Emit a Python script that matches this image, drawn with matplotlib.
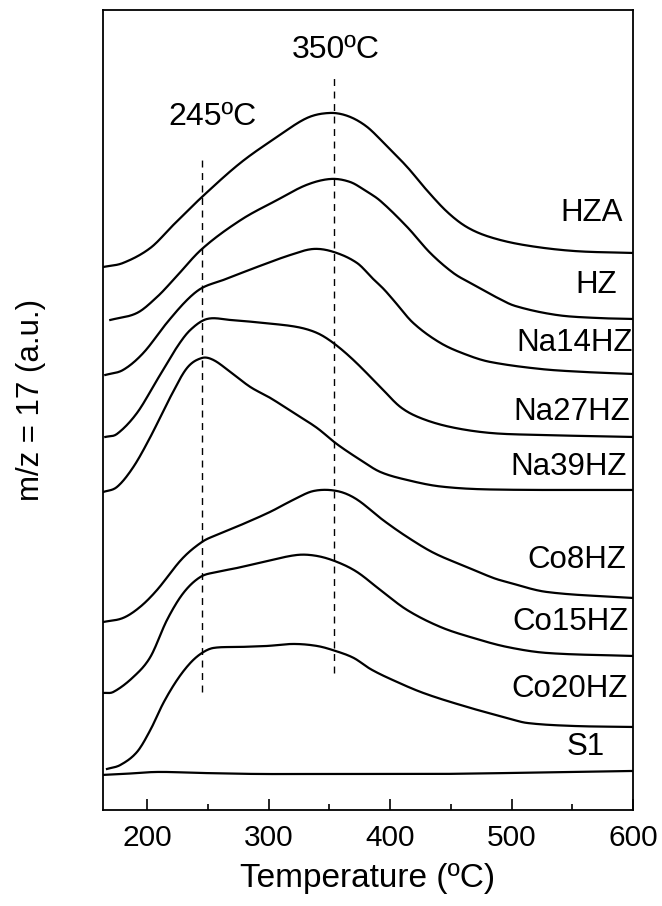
import numpy as np
import matplotlib
matplotlib.use('Agg')
import matplotlib.pyplot as plt

plt.rcParams['font.family'] = ['Liberation Sans', 'DejaVu Sans']

# TPD curves, m/z = 17 signal (offset traces, arbitrary units)
t_hza = [163.8, 180, 202.5, 221.4, 245, 276.6, 306.8, 331.5, 350, 365, 380, 394,
         414, 430, 447, 463, 482, 510, 551, 600]
y_hza = [543, 547, 562, 585, 613, 647, 673, 692, 697, 694, 684, 668,
         643, 620, 598, 583, 573, 565, 559, 557]

t_hz = [169.5, 191.5, 208, 221.4, 245, 277, 307, 331, 351, 367, 380, 392, 414, 433, 452,
        466, 487, 503, 537, 570, 600]
y_hz = [490, 497, 513, 530, 561, 590, 610, 625, 631, 628, 619, 609, 583, 557, 537,
        527, 513, 504, 495, 492, 491]

t_na14 = [165.4, 180, 196.7, 216, 232.7, 245, 262.6, 290.4, 317.8, 336.7, 353.5, 372.7,
          386, 394.6, 402.6, 419, 441.4, 463.4, 482.5, 523.7, 560, 600]
y_na14 = [435, 440, 457, 487, 510, 522, 530, 543, 555, 561, 558, 547,
          531, 521, 510, 487, 467, 455, 448, 441, 438, 436]

t_na27 = [165.4, 175, 191.5, 208, 224.5, 235.4, 249.2, 268.4, 295.6, 323.3, 339.8,
          353.2, 369.7, 391.9, 408.4, 424.9, 449.6, 482.5, 523.7, 600]
y_na27 = [373, 376, 397, 430, 463, 480, 491, 490, 487, 483, 477,
          467, 450, 423, 403, 392, 383, 377, 375, 373]

t_na39 = [163.8, 175, 188.5, 202.5, 219, 232.7, 245, 254.4, 268.4, 284.8, 301.3, 323.3,
          339.8, 356, 375.5, 391.9, 413.9, 441.4, 482.5, 600]
y_na39 = [318, 323, 343, 373, 413, 442, 452, 450, 438, 423, 412, 395,
          382, 366, 350, 338, 330, 323.5, 320.5, 320]

t_co8 = [163.8, 180, 194, 208, 228.5, 245, 257, 277, 301, 320, 337, 356, 372, 394,
         414, 436, 463, 485, 496, 529, 600]
y_co8 = [188, 192, 203, 220, 251, 268, 275, 285, 298, 310, 319, 319, 311, 290,
         273, 257, 243, 232, 228, 218, 212]

t_co15 = [163.8, 172, 188.5, 202.5, 216.2, 229.7, 243.7, 257.4, 273.9, 295.6, 323.3,
          339.8, 356.3, 372.7, 391.9, 413.9, 441.4, 468.5, 496.3, 529.2, 600]
y_co15 = [117, 118, 133, 153, 190, 217, 233, 238, 242, 248, 255,
          254, 248, 238, 220, 200, 183, 172, 163, 157, 154]

t_co20 = [166.8, 177.8, 191.5, 202.5, 213.2, 224.5, 235.4, 245, 254.4, 276.6, 298.6,
          320.3, 339.8, 355, 370, 383.7, 400.2, 427.3, 463.4, 496.3, 512.8, 550.9, 600]
y_co20 = [41, 45, 58, 80, 107, 130, 147, 157, 162, 163, 164,
          166, 164, 159, 152, 141, 131, 117, 103, 92, 87, 84, 83]

t_s1 = [162.7, 180, 208, 243.7, 290.4, 345, 400, 441.4, 550.9, 600]
y_s1 = [35, 36, 38, 37, 36, 36, 36, 36, 38, 39]

curves = [(t_hza, y_hza), (t_hz, y_hz), (t_na14, y_na14), (t_na27, y_na27),
          (t_na39, y_na39), (t_co8, y_co8), (t_co15, y_co15), (t_co20, y_co20),
          (t_s1, y_s1)]

names = ['HZA', 'HZ', 'Na14HZ', 'Na27HZ', 'Na39HZ', 'Co8HZ', 'Co15HZ', 'Co20HZ', 'S1']
name_x = [592, 587, 600, 598, 595, 594.5, 596, 596, 577]
name_y = [597, 525, 467, 398, 343, 250, 188, 121, 63]

# reference temperatures (dashed) and their labels
peak_t = [245, 354]
peak_lo = [118, 137]
peak_hi = [655, 732]
peak_lbl = ['245ºC', '350ºC']
peak_lbl_x = [253.5, 355]
peak_lbl_y = [693, 760]


def smooth(x, y, n=600):
    # Catmull-Rom style cubic Hermite through the read points
    x = np.asarray(x, float)
    y = np.asarray(y, float)
    h = np.diff(x)
    m = np.empty_like(y)
    m[1:-1] = (y[2:] - y[:-2]) / (x[2:] - x[:-2])
    m[0] = (y[1] - y[0]) / h[0]
    m[-1] = (y[-1] - y[-2]) / h[-1]
    xx = np.linspace(x[0], x[-1], n)
    i = np.clip(np.searchsorted(x, xx) - 1, 0, len(x) - 2)
    s = (xx - x[i]) / h[i]
    yy = ((2 * s**3 - 3 * s**2 + 1) * y[i] + (s**3 - 2 * s**2 + s) * h[i] * m[i]
          + (-2 * s**3 + 3 * s**2) * y[i + 1] + (s**3 - s**2) * h[i] * m[i + 1])
    return xx, yy


fig = plt.figure(figsize=(6.62, 9.06), dpi=100)
ax = fig.add_axes([0.1556, 0.106, 0.8006, 0.883])

for t, y in curves:
    xx, yy = smooth(t, y)
    ax.plot(xx, yy, color='black', lw=1.6)

for t0, lo, hi in zip(peak_t, peak_lo, peak_hi):
    ax.plot([t0, t0], [lo, hi], color='black', lw=1.0, ls=(0, (5, 4)))

for lbl, x, y in zip(peak_lbl, peak_lbl_x, peak_lbl_y):
    ax.text(x, y, lbl, fontsize=23, ha='center', va='center')

for n, x, y in zip(names, name_x, name_y):
    ax.text(x, y, n, fontsize=22.5, ha='right', va='center')

ax.set_xlim(163.5, 600)
ax.set_ylim(0, 800)
ax.set_xticks([200, 300, 400, 500, 600])
ax.set_xticks([250, 350, 450, 550], minor=True)
ax.set_yticks([])
ax.tick_params(axis='x', which='major', direction='in', length=8, width=1.2,
               labelsize=21.5, pad=10)
ax.tick_params(axis='x', which='minor', direction='in', length=4, width=1.2)
for s in ax.spines.values():
    s.set_linewidth(1.3)

ax.set_xlabel('Temperature (ºC)', fontsize=24, labelpad=8)
fig.text(31 / 662, 1 - 400 / 906, 'm/z = 17 (a.u.)', fontsize=22.5,
         rotation=90, ha='center', va='center')

fig.savefig('out.png', dpi=100)
